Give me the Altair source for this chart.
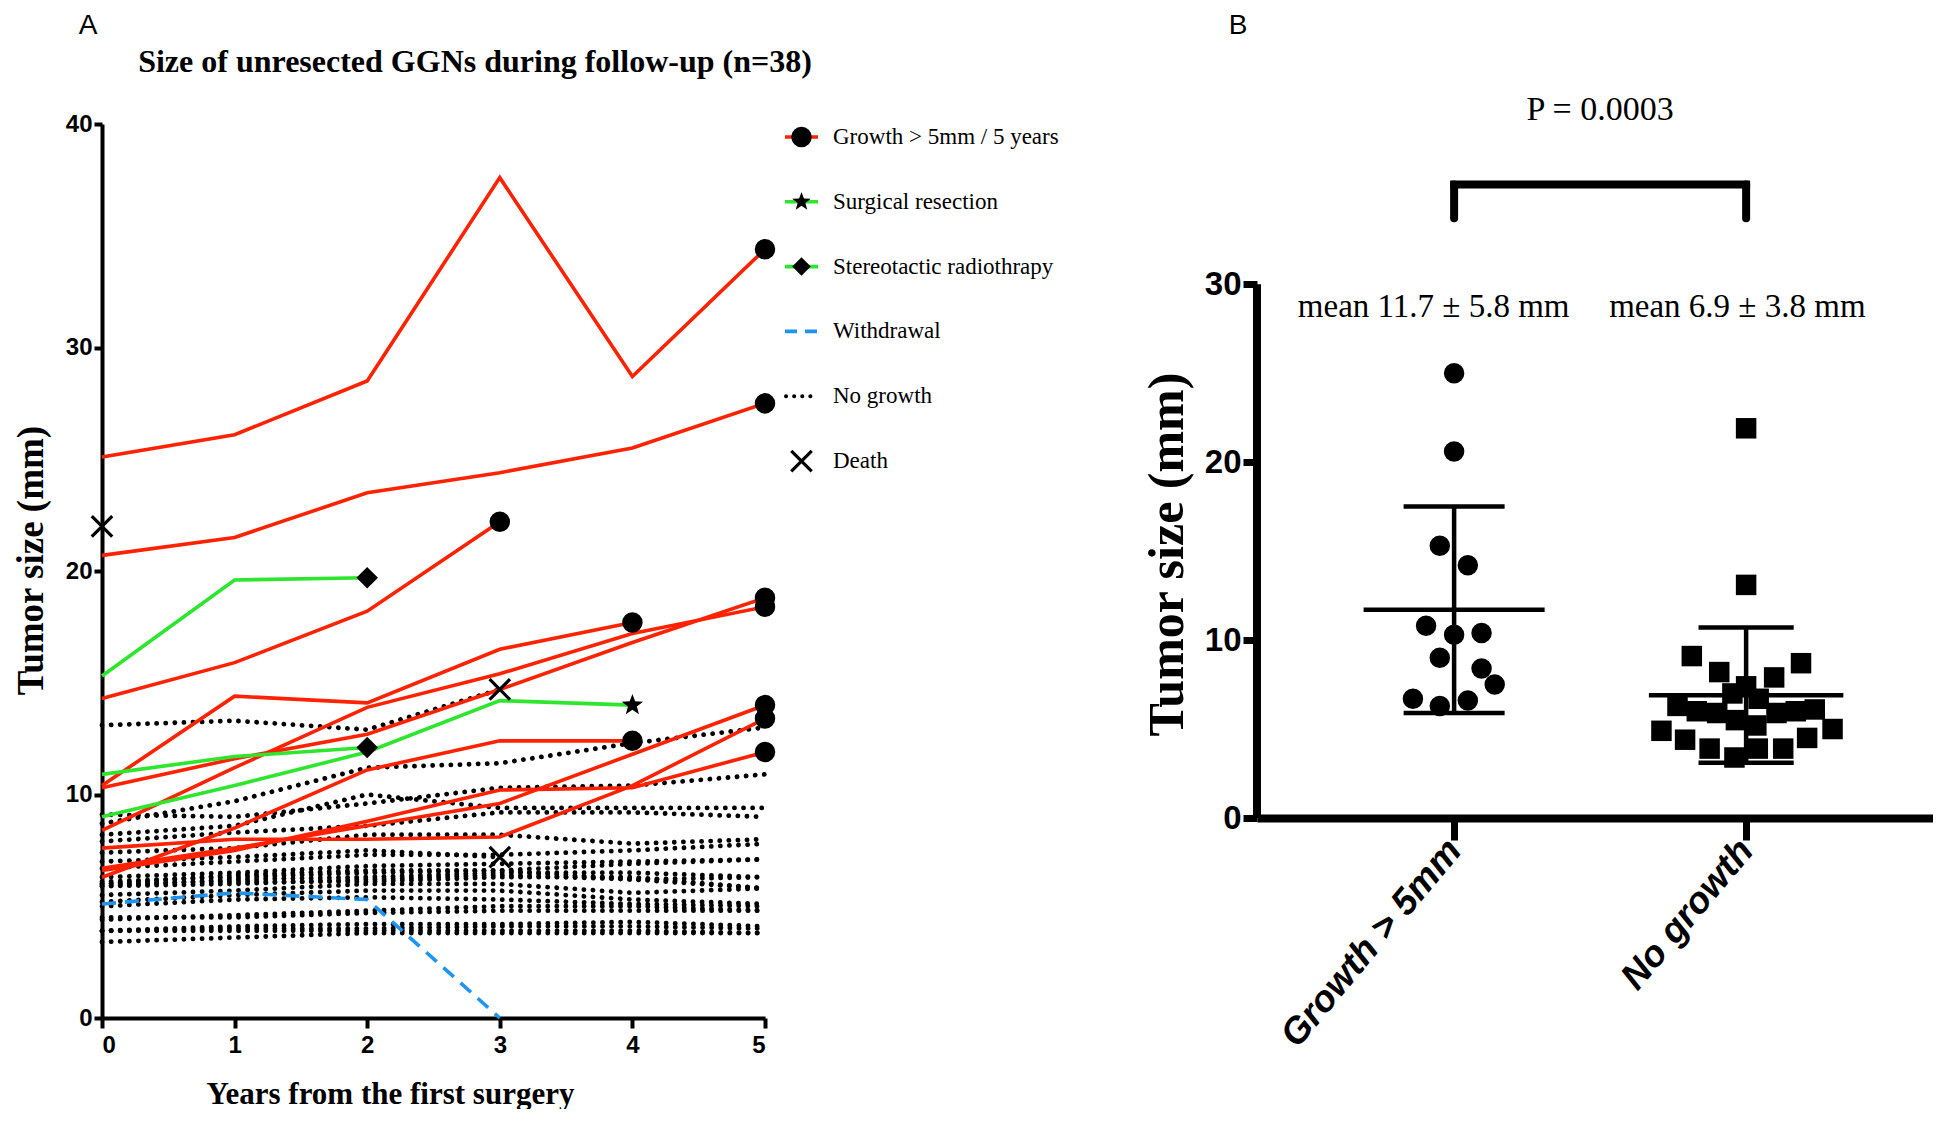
import math
import altair as alt
import pandas as pd

# ---------------- Panel A data ----------------
YEARS = [0, 1, 2, 3, 4, 5]

RED_SERIES = [
    [25.1, 26.1, 28.5, 37.6, 28.7, 34.4],
    [20.7, 21.5, 23.5, 24.4, 25.5, 27.5],
    [14.3, 15.9, 18.2, 22.2],
    [10.4, 14.4, 14.1, 16.5, 17.7],
    [8.4, 11.2, 13.9, 15.4, 17.2, 18.4],
    [10.3, 11.6, 12.7, 14.7, 16.8, 18.8],
    [6.3, 8.5, 11.1, 12.4, 12.4],
    [6.7, 7.6, 8.6, 9.6, 11.8, 14.0],
    [7.6, 8.0, 8.0, 8.1, 10.4, 13.4],
    [6.6, 7.5, 8.8, 10.2, 10.3, 11.9],
]
GREEN_SERIES = [
    [15.3, 19.6, 19.7],
    [10.9, 11.7, 12.1],
    [9.0, 10.4, 11.9, 14.2, 14.0],
]
GREEN_END = ["diamond", "diamond", "star"]
WITHDRAWAL_SERIES = [5.1, 5.6, 5.3, 0.0]
NOGROWTH_SERIES = [
    [22.0],
    [13.1, 13.3, 12.9, 14.7],
    [8.7, 9.7, 11.2, 11.4, 12.3, 13.0],
    [9.1, 9.0, 9.6, 10.3, 10.4, 10.9],
    [8.2, 8.6, 10.0, 9.4, 9.4, 9.4],
    [7.9, 8.3, 8.6, 9.2, 9.2, 9.0],
    [7.4, 7.6, 8.2, 8.2, 7.8, 8.0],
    [7.0, 7.2, 7.5, 7.2],
    [6.7, 7.0, 7.3, 7.3, 7.5, 7.8],
    [6.3, 6.5, 6.8, 6.9, 7.0, 7.1],
    [6.0, 6.4, 6.6, 6.6, 6.9, 7.1],
    [5.9, 6.2, 6.3, 6.5, 6.5, 6.3],
    [5.9, 6.0, 6.2, 6.4, 6.2, 6.3],
    [6.0, 6.1, 6.1, 6.3, 6.3, 5.8],
    [6.1, 6.3, 6.5, 6.6, 6.2, 5.8],
    [5.5, 5.7, 6.0, 6.0, 5.6, 5.8],
    [5.2, 5.5, 5.7, 5.7, 5.3, 5.1],
    [5.0, 5.3, 5.4, 5.3, 5.1, 5.0],
    [4.4, 4.6, 4.8, 5.0, 5.0, 4.8],
    [4.5, 4.5, 4.7, 4.8, 4.8, 4.8],
    [3.9, 4.0, 4.0, 4.1, 4.1, 4.0],
    [3.9, 4.1, 4.2, 4.2, 4.3, 4.1],
    [3.9, 3.9, 3.9, 3.9, 3.9, 3.8],
    [3.4, 3.6, 3.8, 3.8, 3.8, 3.8],
]
NOGROWTH_DEATH = [True, True] + [False] * 5 + [True] + [False] * 16

LEGEND_LABELS = ["Growth > 5mm  / 5 years", "Surgical resection",
                 "Stereotactic radiothrapy", "Withdrawal", "No growth", "Death"]

# ---------------- Panel B data ----------------
CATEGORIES = ["Growth > 5mm", "No growth"]
CAT_POS = [1, 2]
GROWTH_SIZES = [25.0, 20.6, 15.3, 14.2, 10.8, 10.3, 10.4, 9.0, 8.4, 7.5, 6.7, 6.6, 6.3]
GROWTH_POS = [1.0, 1.0, 0.951, 1.047, 0.904, 1.0, 1.094, 0.951, 1.094, 1.139, 0.859, 1.047, 0.951]
NOGROWTH_SIZES = [21.9, 13.1, 9.1, 8.7, 8.2, 7.9, 7.4, 7.0, 6.7, 6.3, 6.0, 5.9, 5.9,
                  6.0, 6.1, 5.5, 5.2, 4.9, 5.0, 4.4, 4.5, 3.9, 3.9, 3.9, 3.4]
NOGROWTH_POS = [2.0, 2.0, 1.814, 2.188, 1.908, 2.096, 2.0, 1.953, 2.043, 1.765, 1.831, 1.901, 2.104,
                2.170, 2.235, 1.965, 2.035, 1.710, 2.296, 1.791, 2.209, 1.875, 2.040, 2.127, 1.960]
MEANS = [11.7, 6.9]
SDS = [5.8, 3.8]
P_VALUE = "0.0003"

# ---------------- styles ----------------
RED = "#FF2200"
GREEN = "#2EE62E"
BLUE = "#1E96F0"
SERIF = "Liberation Serif"
SANS_NARROW = "Liberation Sans Narrow, Liberation Sans, Arial"
SANS = "Liberation Sans, Arial"


def star_path(n=5, r_out=1.0, r_in=0.42):
    pts = []
    for k in range(2 * n):
        r = r_out if k % 2 == 0 else r_in
        a = -math.pi / 2 + k * math.pi / n
        pts.append(f"{r * math.cos(a):.3f},{r * math.sin(a):.3f}")
    return "M" + " L".join(pts) + " Z"


STAR = star_path()
XPATH = "M-1,-1L1,1M-1,1L1,-1"


def to_long(series_list, group):
    rows = []
    for i, s in enumerate(series_list):
        for yr, v in zip(YEARS, s):
            rows.append({"id": f"{group}-{i}", "year": yr, "size": v})
    return pd.DataFrame(rows)


red_df = to_long(RED_SERIES, "g")
green_df = to_long(GREEN_SERIES, "t")
blue_df = to_long([WITHDRAWAL_SERIES], "w")
dot_df = to_long([s for s in NOGROWTH_SERIES if len(s) > 1], "n")

mk_rows = [{"year": len(s) - 1, "size": s[-1], "kind": "circle"} for s in RED_SERIES]
mk_rows += [{"year": len(s) - 1, "size": s[-1], "kind": k} for s, k in zip(GREEN_SERIES, GREEN_END)]
marker_df = pd.DataFrame(mk_rows)
death_df = pd.DataFrame([{"year": len(s) - 1, "size": s[-1]}
                         for s, d in zip(NOGROWTH_SERIES, NOGROWTH_DEATH) if d])

# ---------------- Panel A ----------------
W_A, H_A = 663, 894
xA = alt.X("year:Q", scale=alt.Scale(domain=[0, 5], nice=False, zero=False),
           axis=alt.Axis(values=YEARS, format="d", title="Years from the first surgery",
                         labelFont=SANS_NARROW, labelFontWeight="bold", labelFontSize=24,
                         labelPadding=5, tickSize=10, tickWidth=4, domainWidth=4,
                         titleFont=SERIF, titleFontWeight="bold", titleFontSize=31,
                         titleX=288, titleY=76, titleBaseline="middle", titleAlign="center"))
yA = alt.Y("size:Q", scale=alt.Scale(domain=[0, 40], nice=False),
           axis=alt.Axis(values=[0, 10, 20, 30, 40], title="Tumor size (mm)",
                         labelFont=SANS_NARROW, labelFontWeight="bold", labelFontSize=24,
                         labelPadding=2, tickSize=8, tickWidth=4, domainWidth=4,
                         titleFont=SERIF, titleFontWeight="bold", titleFontSize=37,
                         titleX=-71, titleY=436, titleBaseline="middle", titleAlign="center"))

dots = alt.Chart(dot_df).mark_line(color="black", strokeWidth=4.8, strokeDash=[0.1, 9],
                                   strokeCap="round").encode(x=xA, y=yA, detail="id:N")
blue = alt.Chart(blue_df).mark_line(color=BLUE, strokeWidth=3.6, strokeDash=[14, 9]).encode(
    x=xA, y=yA, detail="id:N")
reds = alt.Chart(red_df).mark_line(color=RED, strokeWidth=3.6).encode(x=xA, y=yA, detail="id:N")
greens = alt.Chart(green_df).mark_line(color=GREEN, strokeWidth=3.6).encode(x=xA, y=yA, detail="id:N")
markers = alt.Chart(marker_df).mark_point(filled=True, color="black", opacity=1).encode(
    x=xA, y=yA,
    shape=alt.Shape("kind:N", scale=alt.Scale(domain=["circle", "diamond", "star"],
                                              range=["circle", "diamond", STAR]), legend=None),
    size=alt.Size("kind:N", scale=alt.Scale(domain=["circle", "diamond", "star"],
                                            range=[420, 500, 340]), legend=None))
deaths = alt.Chart(death_df).mark_point(shape=XPATH, filled=False, color="black", strokeWidth=3.2,
                                        size=420, opacity=1).encode(x=xA, y=yA)
label_a = alt.Chart(pd.DataFrame({"t": ["A"]})).mark_text(
    font=SANS, fontSize=28, align="center", baseline="middle", color="black").encode(
    x=alt.value(-14), y=alt.value(-98), text="t:N")
title_a = alt.Chart(pd.DataFrame({"t": ["Size of unresected GGNs during follow-up (n=38)"]})).mark_text(
    font=SERIF, fontSize=32, fontWeight="bold", align="center", baseline="middle", color="black").encode(
    x=alt.value(373), y=alt.value(-62), text="t:N")

chart_a = alt.layer(dots, blue, reds, greens, markers, deaths, label_a, title_a).properties(
    width=W_A, height=H_A)

# ---------------- Legend ----------------
yL = alt.Y("label:N", scale=alt.Scale(type="point", domain=LEGEND_LABELS, padding=0.2), axis=None)
leg_df = pd.DataFrame({"label": LEGEND_LABELS})
solid = alt.Chart(leg_df.iloc[:3]).mark_rule(strokeWidth=3.6).encode(
    x=alt.value(5), x2=alt.value(38), y=yL,
    color=alt.Color("label:N", scale=alt.Scale(domain=LEGEND_LABELS[:3], range=[RED, GREEN, GREEN]),
                    legend=None))
dashed = alt.Chart(leg_df.iloc[3:4]).mark_rule(strokeWidth=3.6, strokeDash=[12, 8], color=BLUE).encode(
    x=alt.value(5), x2=alt.value(40), y=yL)
dotted = alt.Chart(leg_df.iloc[4:5]).mark_rule(strokeWidth=4, strokeDash=[0.1, 8], strokeCap="round",
                                               color="black").encode(x=alt.value(6), x2=alt.value(36), y=yL)
leg_mk = alt.Chart(leg_df.iloc[:3]).mark_point(filled=True, color="black", opacity=1).encode(
    x=alt.value(21.5), y=yL,
    shape=alt.Shape("label:N", scale=alt.Scale(domain=LEGEND_LABELS[:3], range=["circle", STAR, "diamond"]),
                    legend=None),
    size=alt.Size("label:N", scale=alt.Scale(domain=LEGEND_LABELS[:3], range=[420, 340, 500]), legend=None))
leg_x = alt.Chart(leg_df.iloc[5:6]).mark_point(shape=XPATH, filled=False, color="black", strokeWidth=3.2,
                                               size=420, opacity=1).encode(x=alt.value(21.5), y=yL)
leg_txt = alt.Chart(leg_df).mark_text(font=SERIF, fontSize=23, align="left", baseline="middle",
                                      color="black").encode(x=alt.value(53), y=yL, text="label:N")
legend_chart = alt.layer(solid, dashed, dotted, leg_mk, leg_x, leg_txt).properties(width=462, height=350)

# ---------------- Panel B ----------------
W_B, H_B = 676, 694
label_expr = f"datum.value == 1 ? '{CATEGORIES[0]}' : '{CATEGORIES[1]}'"
xB = alt.X("pos:Q", scale=alt.Scale(domain=[0.325, 2.64], nice=False, zero=False),
           axis=alt.Axis(values=CAT_POS, labelExpr=label_expr, title=None, labelLimit=0,
                         labelFont=SANS, labelFontWeight="bold", labelFontStyle="italic",
                         labelFontSize=37, labelAngle=-50, labelAlign="right", labelBaseline="middle",
                         labelPadding=4, tickSize=22, tickWidth=7, domainWidth=8))
yB = alt.Y("size:Q", scale=alt.Scale(domain=[0, 39], nice=False),
           axis=alt.Axis(values=[0, 10, 20, 30], domain=False, title="Tumor size (mm)",
                         labelFont=SANS_NARROW, labelFontWeight="bold", labelFontSize=33,
                         labelPadding=2, tickSize=14, tickWidth=7,
                         titleFont=SERIF, titleFontWeight="bold", titleFontSize=50,
                         titleX=-90, titleY=430, titleBaseline="middle", titleAlign="center"))

yaxis_line = alt.Chart(pd.DataFrame({"size": [0], "size2": [30]})).mark_rule(
    strokeWidth=8, color="black").encode(x=alt.value(0), y=yB, y2=alt.Y2("size2"))
circ = alt.Chart(pd.DataFrame({"pos": GROWTH_POS, "size": GROWTH_SIZES})).mark_point(
    shape="circle", filled=True, color="black", size=420, opacity=1).encode(x=xB, y=yB)
sq = alt.Chart(pd.DataFrame({"pos": NOGROWTH_POS, "size": NOGROWTH_SIZES})).mark_point(
    shape="square", filled=True, color="black", size=420, opacity=1).encode(x=xB, y=yB)

MEAN_HW = [0.31, 0.333]
CAP_HW = [0.173, 0.163]
mean_df = pd.DataFrame({"pos": [c - h for c, h in zip(CAT_POS, MEAN_HW)],
                        "pos2": [c + h for c, h in zip(CAT_POS, MEAN_HW)], "size": MEANS})
sd_df = pd.DataFrame({"pos": CAT_POS, "size": [m - s for m, s in zip(MEANS, SDS)],
                      "size2": [m + s for m, s in zip(MEANS, SDS)]})
cap_rows = []
for c, h, m, s in zip(CAT_POS, CAP_HW, MEANS, SDS):
    cap_rows.append({"pos": c - h, "pos2": c + h, "size": m + s})
    cap_rows.append({"pos": c - h, "pos2": c + h, "size": m - s})
cap_df = pd.DataFrame(cap_rows)
mean_rule = alt.Chart(mean_df).mark_rule(strokeWidth=4.5, color="black").encode(
    x=xB, x2=alt.X2("pos2"), y=yB)
cap_rule = alt.Chart(cap_df).mark_rule(strokeWidth=4.5, color="black").encode(
    x=xB, x2=alt.X2("pos2"), y=yB)
sd_rule = alt.Chart(sd_df).mark_rule(strokeWidth=4.5, color="black").encode(
    x=xB, y=yB, y2=alt.Y2("size2"))

BRACKET_TOP = 35.6
BRACKET_LEG = 33.7
br_h = alt.Chart(pd.DataFrame({"pos": [CAT_POS[0]], "pos2": [CAT_POS[1]], "size": [BRACKET_TOP]})).mark_rule(
    strokeWidth=8, color="black", strokeCap="square").encode(x=xB, x2=alt.X2("pos2"), y=yB)
br_v = alt.Chart(pd.DataFrame({"pos": CAT_POS, "size": [BRACKET_LEG] * 2, "size2": [BRACKET_TOP] * 2})).mark_rule(
    strokeWidth=8, color="black", strokeCap="round").encode(x=xB, y=yB, y2=alt.Y2("size2"))

mean_txt_df = pd.DataFrame({"pos": [0.93, 1.97], "size": [28.7, 28.7],
                            "t": [f"mean {m} ± {s} mm" for m, s in zip(MEANS, SDS)]})
mean_txt = alt.Chart(mean_txt_df).mark_text(font=SERIF, fontSize=33, align="center", baseline="middle",
                                             color="black").encode(x=xB, y=yB, text="t:N")
p_txt = alt.Chart(pd.DataFrame({"pos": [1.5], "size": [39.8], "t": [f"P = {P_VALUE}"]})).mark_text(
    font=SERIF, fontSize=34, align="center", baseline="middle", color="black").encode(x=xB, y=yB, text="t:N")
label_b = alt.Chart(pd.DataFrame({"t": ["B"]})).mark_text(
    font=SANS, fontSize=28, align="center", baseline="middle", color="black").encode(
    x=alt.value(-19), y=alt.value(-98), text="t:N")

chart_b = alt.layer(yaxis_line, mean_rule, cap_rule, sd_rule, circ, sq, br_h, br_v,
                    mean_txt, p_txt, label_b).properties(width=W_B, height=H_B)

chart = alt.hconcat(
    chart_a, legend_chart, chart_b, spacing=15, bounds="flush",
    padding={"left": 4, "top": 4, "right": 0, "bottom": 0}
).resolve_scale(shape="independent", size="independent", color="independent").configure_view(
    stroke=None).configure_axis(grid=False, labelColor="black", tickColor="black",
                                domainColor="black", titleColor="black")

chart.save("out.html", embed_options={"renderer": "svg", "actions": False})
